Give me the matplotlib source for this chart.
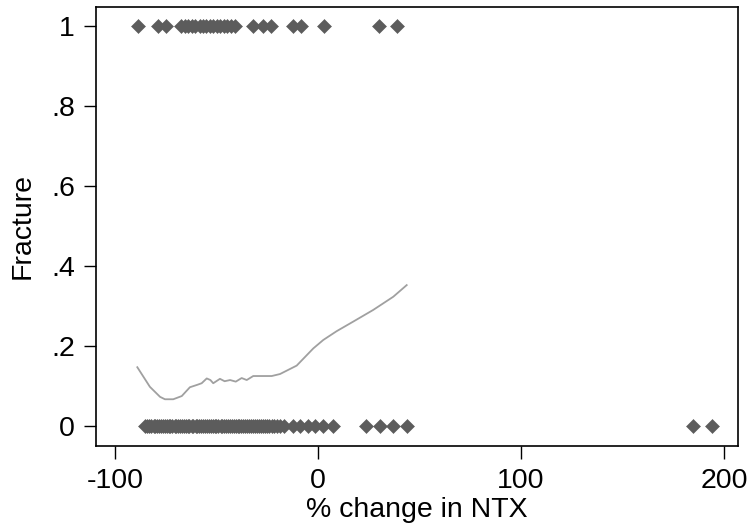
import matplotlib
matplotlib.use("Agg")
import matplotlib.pyplot as plt

plt.rcParams["font.family"] = ["Liberation Sans", "DejaVu Sans"]

# % change in NTX for patients with a fracture (Fracture = 1)
ntx_fracture = [-88.9, -78.8, -74.7, -67.3, -65.5, -64.0, -62.2, -60.4, -58.1,
                -56.6, -55.0, -53.2, -51.5, -49.8, -48.1, -46.4, -44.9, -43.0,
                -41.1, -32.1, -27.2, -23.2, -12.2, -8.4, 3.1, 30.0, 39.1]

# % change in NTX for patients without a fracture (Fracture = 0)
ntx_no_fracture = [-85.0, -84.1, -83.0, -82.2, -81.0, -80.1, -79.3, -78.2, -77.4,
                   -76.5, -75.3, -74.6, -73.5, -72.7, -71.8, -70.6, -69.9, -68.8,
                   -67.9, -67.0, -66.1, -65.2, -64.0, -63.3, -62.1, -61.4, -60.2,
                   -59.5, -58.4, -57.6, -56.5, -55.7, -54.8, -53.6, -52.9, -51.8,
                   -50.9, -50.0, -49.1, -48.0, -47.2, -46.3, -45.1, -44.4, -43.3,
                   -42.5, -41.4, -40.6, -39.5, -38.8, -37.7, -36.9, -35.8, -34.9,
                   -33.9, -33.0, -31.9, -31.1, -30.0, -29.2, -28.1, -27.0, -26.2,
                   -25.1, -24.0, -22.9, -21.7, -20.4, -18.9, -16.5, -12.2, -8.9,
                   -4.8, -1.5, 2.6, 7.5, 23.6, 30.5, 37.1, 43.7, 184.8, 193.9]

# Lowess smooth of fracture on % change in NTX
smooth_x = [-89.0, -82.8, -77.8, -75.4, -71.3, -67.1, -63.1, -59.5, -57.3,
            -54.8, -53.0, -51.6, -48.3, -46.0, -43.3, -40.5, -37.6, -35.1,
            -31.9, -22.8, -18.7, -10.5, -2.3, 2.6, 9.2, 17.4, 27.2, 37.1, 43.7]
smooth_y = [0.148, 0.099, 0.074, 0.068, 0.068, 0.076, 0.098, 0.104, 0.108,
            0.120, 0.116, 0.108, 0.119, 0.113, 0.116, 0.112, 0.121, 0.116,
            0.126, 0.126, 0.131, 0.152, 0.195, 0.216, 0.238, 0.262, 0.291,
            0.324, 0.353]

x_ticks = [-100, 0, 100, 200]
x_tick_labels = ["-100", "0", "100", "200"]
y_ticks = [0, 0.2, 0.4, 0.6, 0.8, 1]
y_tick_labels = ["0", ".2", ".4", ".6", ".8", "1"]

fig = plt.figure(figsize=(7.5, 5.29), dpi=100)
ax = fig.add_axes([0.1276, 0.1569, 0.984 - 0.1276, 0.9868 - 0.1569])

marker_color = "#5c5c5c"
ax.plot(ntx_fracture, [1] * len(ntx_fracture), linestyle="none", marker="D",
        markersize=7.2, color=marker_color, markeredgewidth=0.4, zorder=3)
ax.plot(ntx_no_fracture, [0] * len(ntx_no_fracture), linestyle="none", marker="D",
        markersize=7.2, color=marker_color, markeredgewidth=0.4, zorder=3)
ax.plot(smooth_x, smooth_y, color="#a0a0a0", linewidth=1.3, zorder=2)

ax.set_xlim(-109.5, 206.9)
ax.set_ylim(-0.0487, 1.0474)

ax.set_xticks(x_ticks)
ax.set_xticklabels(x_tick_labels)
ax.set_yticks(y_ticks)
ax.set_yticklabels(y_tick_labels)

for spine in ax.spines.values():
    spine.set_linewidth(1.2)
    spine.set_color("black")

ax.tick_params(axis="both", direction="out", length=9, width=1.0,
               labelsize=20.5, colors="black")
ax.tick_params(axis="x", pad=7)
ax.tick_params(axis="y", pad=6)

ax.set_xlabel("% change in NTX", fontsize=20.5, labelpad=2)
ax.set_ylabel("Fracture", fontsize=20.5, labelpad=11)

fig.savefig("out.png", dpi=100, facecolor="white")
